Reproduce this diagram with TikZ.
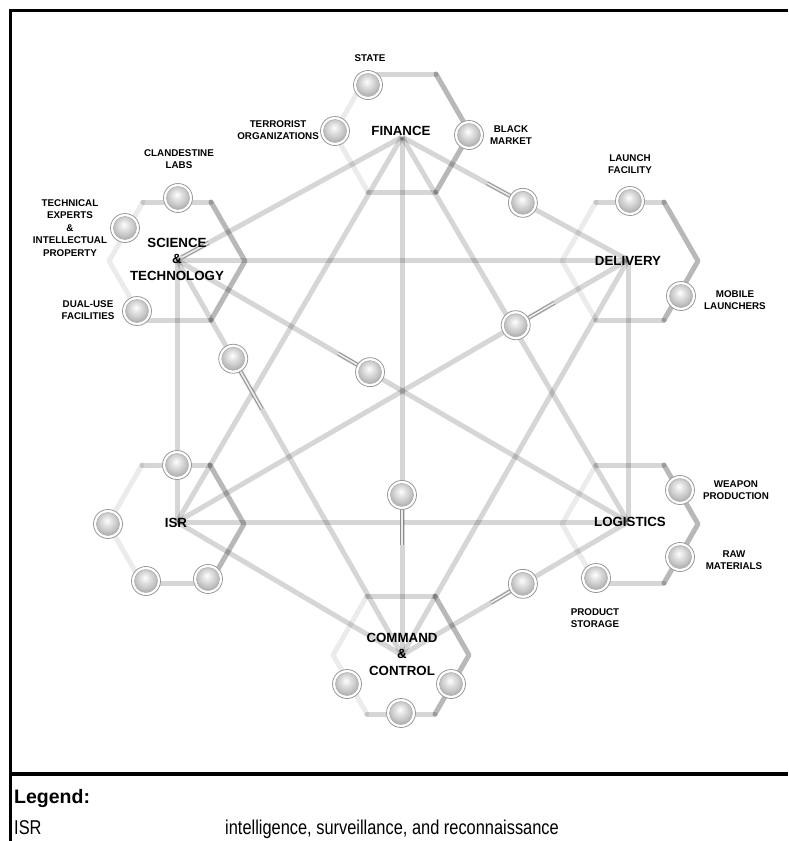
\documentclass[tikz,border=0pt]{standalone}
\usepackage{fontspec}
\setmainfont{Liberation Sans}
\newfontfamily\narrowfont[FakeStretch=0.82]{Liberation Sans}
\usetikzlibrary{calc}
\pgfdeclareradialshading{lightball}{\pgfpoint{-2bp}{6bp}}{%
  color(0bp)=(white); color(7bp)=(white!90!black); color(17bp)=(white!77!black);
  color(25bp)=(white!64!black); color(50bp)=(white!64!black)}
\newcommand\hexcluster[2]{%
  \draw[hexL] (#1-34,#2-59) -- (#1-68,#2) -- (#1-34,#2+59);
  \draw[hexM] (#1-34,#2-59) -- (#1+34,#2-59);
  \draw[hexM] (#1-34,#2+59) -- (#1+34,#2+59);
  \draw[hexR] (#1+34,#2-59) -- (#1+68,#2) -- (#1+34,#2+59);
}
\begin{document}
\begin{tikzpicture}[x=1pt,y=-1pt,
  link/.style={line width=5pt, draw=black, draw opacity=0.16},
  hexL/.style={line width=5pt, draw=black, draw opacity=0.08, line cap=round, line join=round},
  hexM/.style={line width=5pt, draw=black, draw opacity=0.16, line cap=round, line join=round},
  hexR/.style={line width=5pt, draw=black, draw opacity=0.28, line cap=round, line join=round},
  ball/.style={circle, minimum size=29pt, inner sep=0pt, fill=white, draw=gray!80, line width=0.8pt,
    path picture={\shade[shading=lightball] (path picture bounding box.center) circle (11.5pt);
      \draw[gray!60, line width=0.6pt] (path picture bounding box.center) circle (11.5pt);}},
  stub/.style={draw=black!45, line width=0.9pt, double=gray!15, double distance=1.8pt},
  small/.style={font=\bfseries\fontsize{9.8}{12.6}\selectfont, align=center, inner sep=0pt},
  big/.style={font=\bfseries\fontsize{13.3}{16.5}\selectfont, align=center, inner sep=0pt},
  frame/.style={line width=3.6pt, draw=black},
  legend/.style={font=\narrowfont\fontsize{20}{24}\selectfont, anchor=base west, inner sep=0pt},
  legendhead/.style={font=\bfseries\fontsize{19.5}{24}\selectfont, anchor=base west, inner sep=0pt}
]
\useasboundingbox (0,0) rectangle (788,841);

% frame
\draw[frame, line join=miter] (788,10.5) -- (10.5,10.5) -- (10.5,841);
\draw[frame] (10.5,774) -- (788,774);

% hubs
\coordinate (F) at (402,137);
\coordinate (S) at (177,260);
\coordinate (D) at (628,260);
\coordinate (I) at (177,522);
\coordinate (L) at (628,522);
\coordinate (C) at (402,655);

% hexagon clusters
\hexcluster{402}{133}
\hexcluster{177}{261}
\hexcluster{630}{261}
\hexcluster{176}{524}
\hexcluster{630}{524}
\hexcluster{401}{655}

% links (complete graph)
\draw[link] (F) -- (S);
\draw[link] (F) -- (D);
\draw[link] (F) -- (I);
\draw[link] (F) -- (L);
\draw[link] (F) -- (C);
\draw[link] (S) -- (D);
\draw[link] (S) -- (I);
\draw[link] (S) -- (L);
\draw[link] (S) -- (C);
\draw[link] (D) -- (I);
\draw[link] (D) -- (L);
\draw[link] (D) -- (C);
\draw[link] (I) -- (L);
\draw[link] (I) -- (C);
\draw[link] (L) -- (C);

% connector positions on links
\coordinate (fd) at ($(F)!0.535!(D)$);
\coordinate (di) at ($(D)!0.249!(I)$);
\coordinate (sc) at ($(S)!0.25!(C)$);
\coordinate (sl) at ($(S)!0.428!(L)$);
\coordinate (fc) at ($(F)!0.691!(C)$);
\coordinate (lc) at ($(L)!0.465!(C)$);

% stubs
\draw[stub] (fd) -- ($(fd)!41pt!(F)$);
\draw[stub] ($(S)!6pt!(F)$) -- ($(S)!36pt!(F)$);
\draw[stub] (di) -- ($(di)!45pt!(D)$);
\draw[stub] (sc) -- ($(sc)!58pt!(C)$);
\draw[stub] (sl) -- ($(sl)!37pt!(S)$);
\draw[stub] (fc) -- ($(fc)!50pt!(C)$);
\draw[stub] (lc) -- ($(lc)!37pt!(C)$);

% balls on links
\node[ball] (bfd) at (fd) {};
\node[ball] (bdi) at (di) {};
\node[ball] (bsc) at (sc) {};
\node[ball] (bsl) at (sl) {};
\node[ball] (bfc) at (fc) {};
\node[ball] (blc) at (lc) {};

% cluster balls
\node[ball] (state) at (368,85) {};
\node[ball] (terr) at (335,131) {};
\node[ball] (bm) at (469,135) {};
\node[ball] (cl) at (178,198) {};
\node[ball] (te) at (125,228) {};
\node[ball] (du) at (137,311) {};
\node[ball] (lf) at (630,201) {};
\node[ball] (ml) at (681,296) {};
\node[ball] (i1) at (177,465) {};
\node[ball] (i2) at (108,524) {};
\node[ball] (i3) at (146,581) {};
\node[ball] (i4) at (208,579) {};
\node[ball] (wp) at (680,490) {};
\node[ball] (rm) at (680,557) {};
\node[ball] (ps) at (596,578) {};
\node[ball] (c1) at (347,684) {};
\node[ball] (c2) at (401,713) {};
\node[ball] (c3) at (451,684) {};

% hub labels
\node[big] (tF) at (401,131) {FINANCE};
\node[big] (tS) at (177,259) {SCIENCE\\\&\\TECHNOLOGY};
\node[big] (tD) at (628,261) {DELIVERY};
\node[big] (tI) at (176,523) {ISR};
\node[big] (tL) at (630,522) {LOGISTICS};
\node[big] (tC) at (402,654) {COMMAND\\\&\\CONTROL};

% small labels
\node[small] (lstate) at (370,58) {STATE};
\node[small, anchor=east] (lterr) at (319,130) {TERRORIST\\ORGANIZATIONS};
\node[small] (lbm) at (511,135) {BLACK\\MARKET};
\node[small] (lcl) at (179,159) {CLANDESTINE\\LABS};
\node[small] (lte) at (70,228) {TECHNICAL\\EXPERTS\\\&\\INTELLECTUAL\\PROPERTY};
\node[small] (ldu) at (88,310) {DUAL-USE\\FACILITIES};
\node[small] (llf) at (630,164) {LAUNCH\\FACILITY};
\node[small] (lml) at (735,300) {MOBILE\\LAUNCHERS};
\node[small] (lwp) at (736,490) {WEAPON\\PRODUCTION};
\node[small] (lrm) at (734,560) {RAW\\MATERIALS};
\node[small] (lps) at (595,618) {PRODUCT\\STORAGE};

% legend
\node[legendhead] (lg) at (14,803) {Legend:};
\node[legend] (lgisr) at (14,834) {ISR};
\node[legend] (lgdef) at (225,834) {intelligence, surveillance, and reconnaissance};
\end{tikzpicture}
\end{document}
